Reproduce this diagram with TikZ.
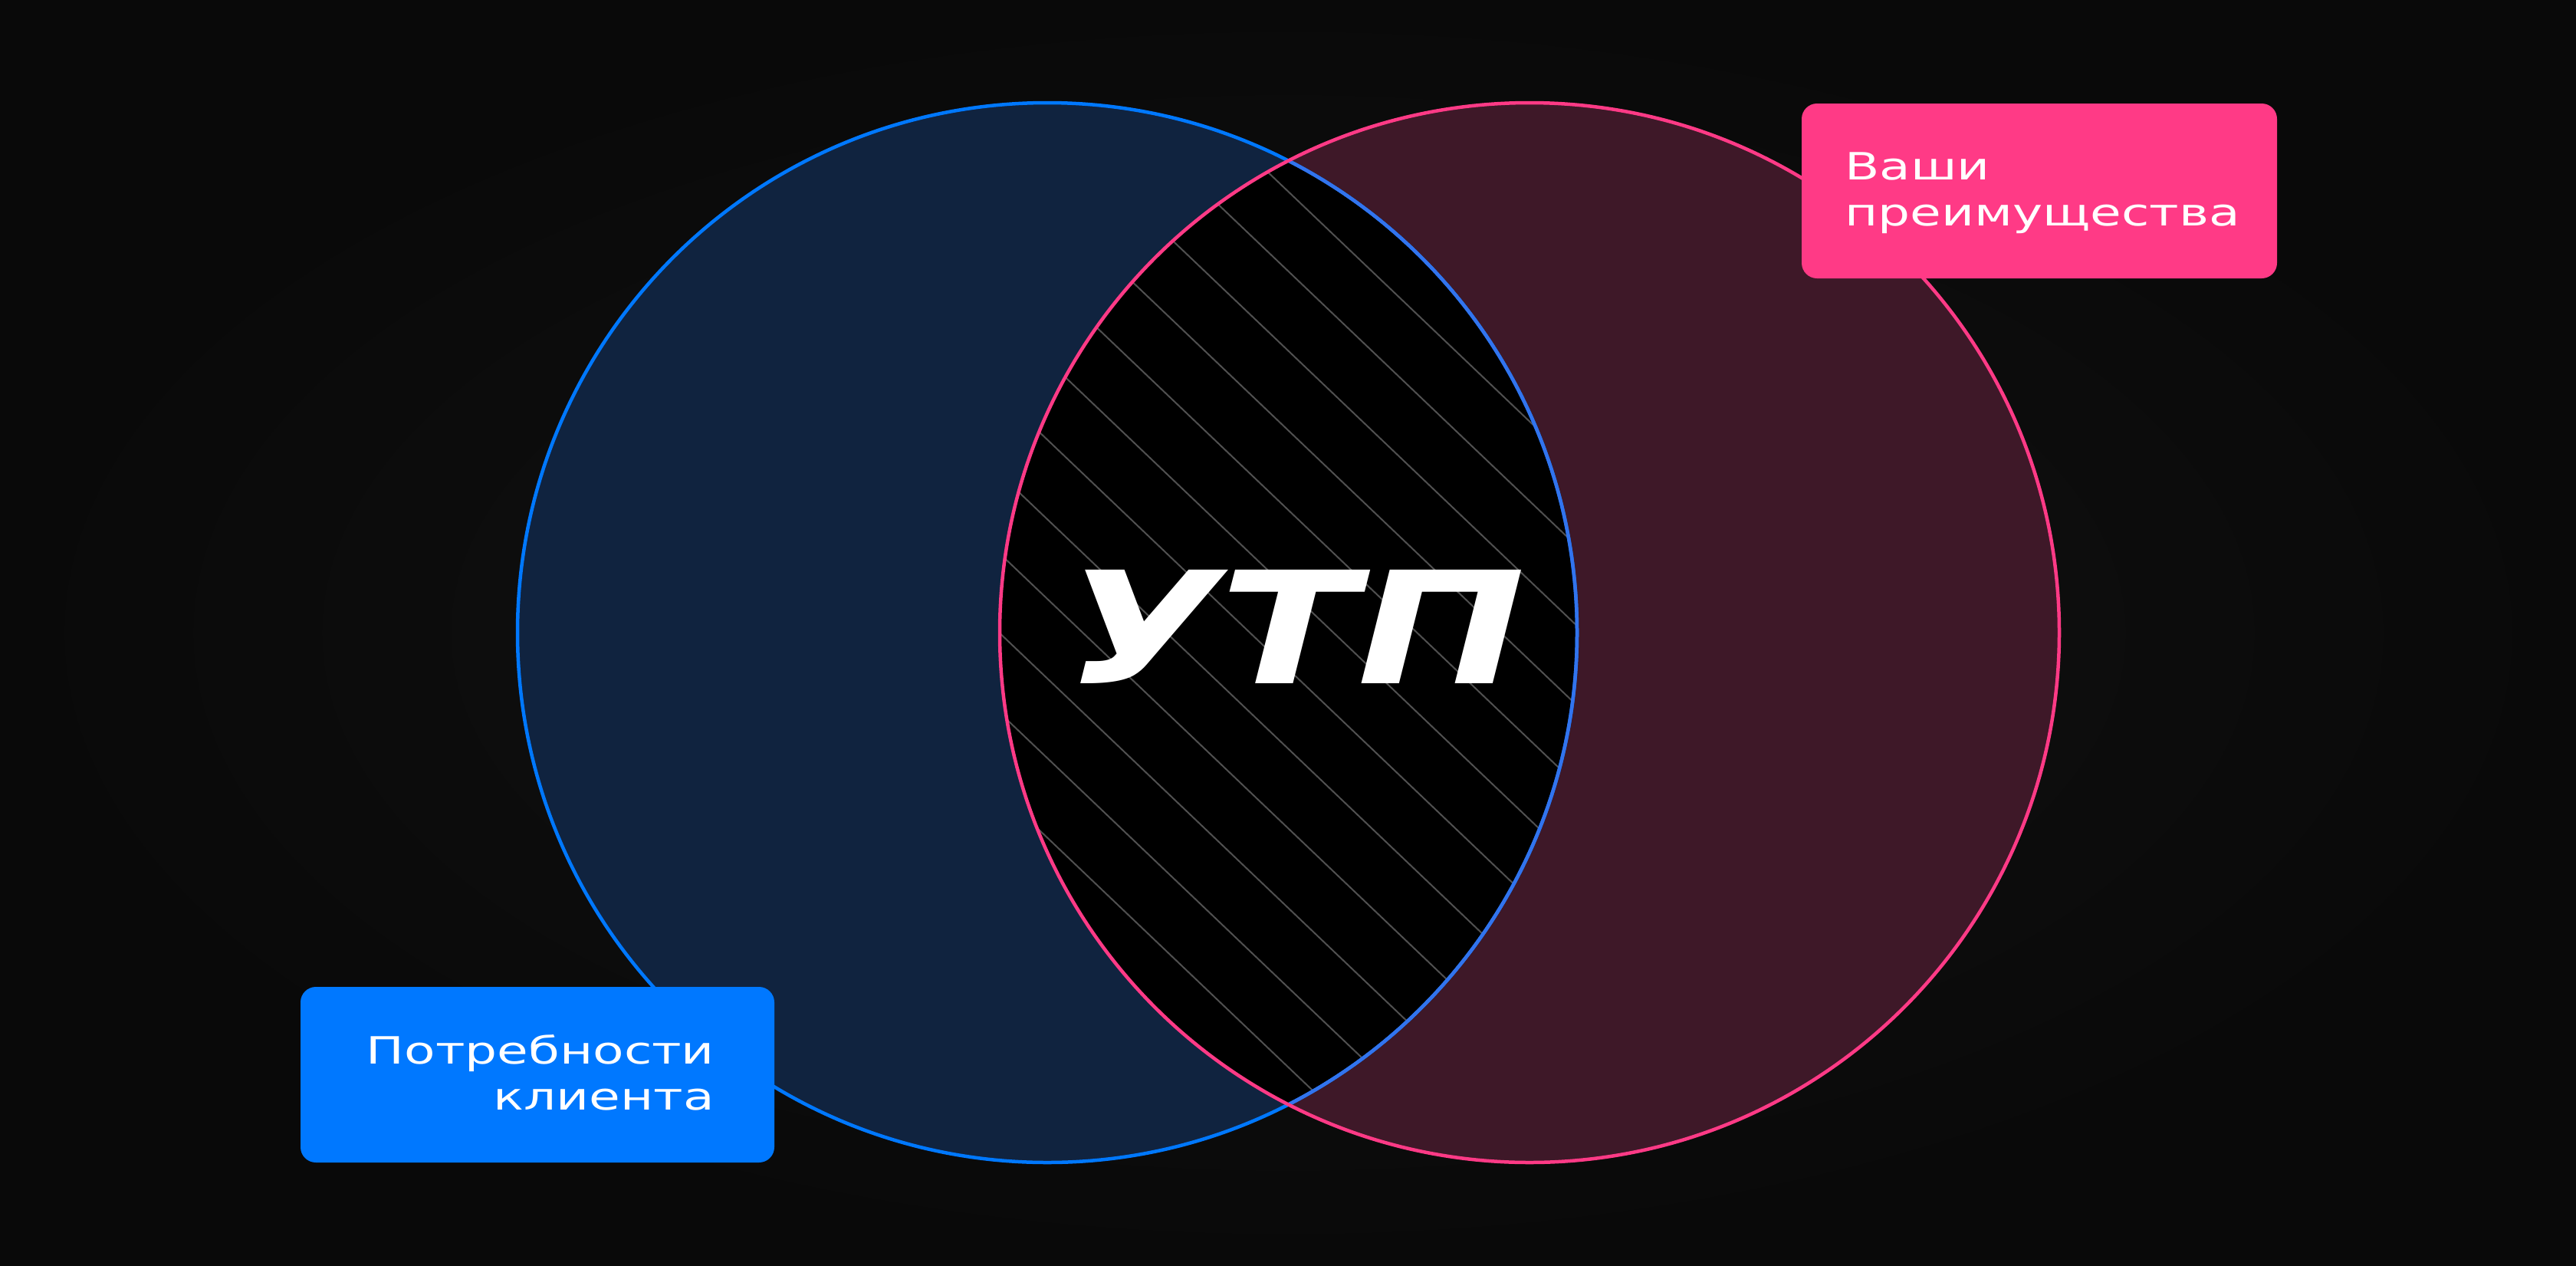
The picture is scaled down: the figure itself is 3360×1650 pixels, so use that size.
\documentclass[tikz,border=0pt]{standalone}
\usepackage{graphicx}
\usepackage{fontspec}
\setmainfont{DejaVu Sans}
\newfontfamily\lblfont[FakeStretch=1.35]{DejaVu Sans}
\definecolor{bgin}{HTML}{131313}
\definecolor{bgout}{HTML}{090909}
\definecolor{lfill}{HTML}{10233F}
\definecolor{rfill}{HTML}{3E1828}
\definecolor{bluec}{HTML}{0078FF}
\definecolor{bluein}{HTML}{3274EE}
\definecolor{pinkc}{HTML}{FF3A86}
\definecolor{hatchc}{HTML}{505050}
\tikzset{
  ring/.style={line width=4.5pt},
  hatchline/.style={hatchc, line width=2pt},
  tagbox/.style={rounded corners=20pt, inner sep=0pt, draw=none},
  tagtext/.style={text=white, inner sep=0pt, font={\lblfont\fontsize{49}{60}\selectfont}},
}
\begin{document}
\begin{tikzpicture}[x=1pt,y=-1pt]
\useasboundingbox (0,0) rectangle (3360,1650);
\shade[inner color=bgin, outer color=bgout] (0,0) rectangle (3360,1650);
\coordinate (cl) at (1366,825);
\coordinate (cr) at (1995,825);
% circle fills
\fill[lfill] (cl) circle (691);
\fill[rfill] (cr) circle (691);
% lens
\begin{scope}
  \clip (cl) circle (691);
  \clip (cr) circle (691);
  \fill[black] (cr) circle (691);
  \foreach \k in {-12,...,14}{
    \draw[hatchline] ({760+109*\k},100) -- ({2282.5+109*\k},1550);
  }
\end{scope}
% outlines
\draw[bluec, ring] (cl) circle (691);
\begin{scope}
  \clip (cr) circle (691);
  \draw[bluein, ring] (cl) circle (691);
\end{scope}
\draw[pinkc, ring] (cr) circle (691);
% centre label
\node[inner sep=0pt, text=white] (utp) at (1690,817) {\resizebox{600pt}{148pt}{\bfseries\itshape УТП}};
% tags
\node[tagbox, fill=bluec, minimum width=618pt, minimum height=229pt] (needbox) at (701,1401.5) {};
\node[tagtext, anchor=east, align=right] (need) at (932,1399) {Потребности\\клиента};
\node[tagbox, fill=pinkc, minimum width=620pt, minimum height=228pt] (advbox) at (2660,249) {};
\node[tagtext, anchor=west, align=left] (adv) at (2406,252) {Ваши\\преимущества};
\end{tikzpicture}
\end{document}
